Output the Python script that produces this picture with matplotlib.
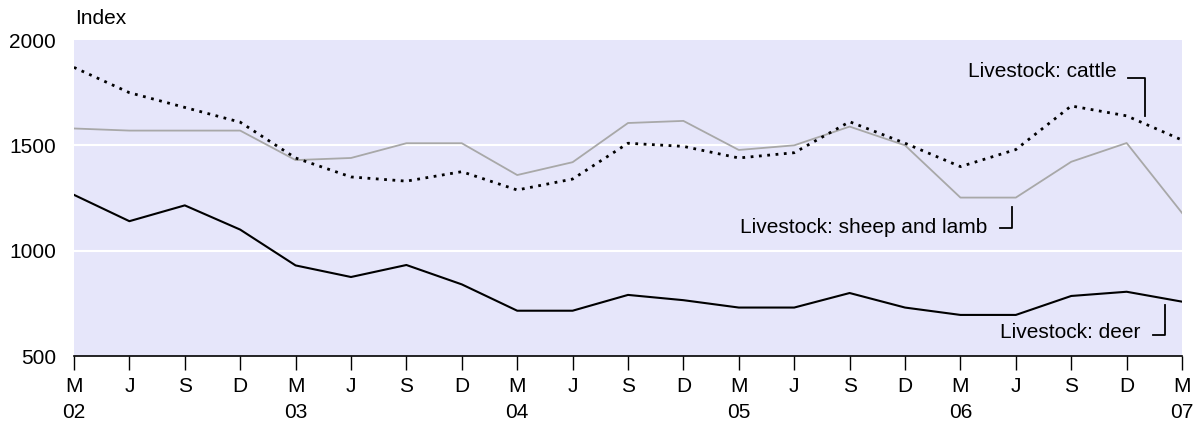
import numpy as np
import matplotlib
matplotlib.use("Agg")
import matplotlib.pyplot as plt

# quarterly points, March 2002 to March 2007
months = ["M", "J", "S", "D"] * 5 + ["M"]
years = ["02", "03", "04", "05", "06", "07"]

cattle = [1870, 1750, 1680, 1610, 1440, 1350, 1330, 1375, 1288, 1340, 1510,
          1495, 1440, 1465, 1612, 1510, 1399, 1480, 1687, 1640, 1525]
sheep = [1580, 1570, 1570, 1570, 1430, 1440, 1510, 1510, 1359, 1420, 1606,
         1616, 1478, 1500, 1589, 1500, 1252, 1252, 1422, 1511, 1179]
deer = [1265, 1140, 1215, 1100, 930, 875, 932, 840, 715, 715, 790,
        765, 730, 730, 799, 730, 695, 695, 785, 805, 758]

plt.rcParams["font.family"] = ["Liberation Sans", "DejaVu Sans"]
FS = 15

fig = plt.figure(figsize=(11.97, 4.26), dpi=100)
ax = fig.add_axes((0.0618, 0.1643, 0.9257, 0.7418))
ax.set_facecolor("#E6E6FA")

x = np.arange(len(months))
ax.plot(x, sheep, color="#A8A8A8", lw=1.3, zorder=3)
ax.plot(x, cattle, color="black", lw=2.0, ls=(0, (1, 2)), zorder=4)
ax.plot(x, deer, color="black", lw=1.5, zorder=4)

ax.set_xlim(0, len(months) - 1)
ax.set_ylim(500, 2000)
ax.set_yticks([500, 1000, 1500, 2000])
ax.set_yticklabels(["500", "1000", "1500", "2000"], fontsize=FS)
ax.tick_params(axis="y", length=0, pad=13)
for yv in (1000, 1500):
    ax.axhline(yv, color="white", lw=1.5, zorder=2)

# x labels: month letter, year under each March
xlabels = []
k = 0
for i, m in enumerate(months):
    if m == "M":
        xlabels.append(f"{m}\n{years[k]}")
        k += 1
    else:
        xlabels.append(m)
ax.set_xticks(x)
ax.set_xticklabels(xlabels, fontsize=FS, linespacing=1.5, va="top")
ax.tick_params(axis="x", length=10, width=1, color="black", pad=5)

for s in ("left", "top", "right"):
    ax.spines[s].set_visible(False)
ax.spines["bottom"].set_color("black")
ax.spines["bottom"].set_linewidth(1.2)

fig.text(0.063, 0.957, "Index", fontsize=FS, ha="left", va="center")

# series labels with bracket leaders
tr = ax.transAxes
ax.text(0.941, 0.899, "Livestock: cattle", fontsize=FS, ha="right", va="center", transform=tr)
ax.plot([0.951, 0.9666, 0.9666], [0.880, 0.880, 0.759], color="black", lw=1.3,
        transform=tr, clip_on=False)
ax.text(0.824, 0.408, "Livestock: sheep and lamb", fontsize=FS, ha="right", va="center", transform=tr)
ax.plot([0.8466, 0.8466, 0.8357], [0.4715, 0.405, 0.405], color="black", lw=1.3,
        transform=tr, clip_on=False)
ax.text(0.962, 0.073, "Livestock: deer", fontsize=FS, ha="right", va="center", transform=tr)
ax.plot([0.9847, 0.9847, 0.9738], [0.161, 0.066, 0.066], color="black", lw=1.3,
        transform=tr, clip_on=False)

fig.savefig("out.png", dpi=100, facecolor="white")
